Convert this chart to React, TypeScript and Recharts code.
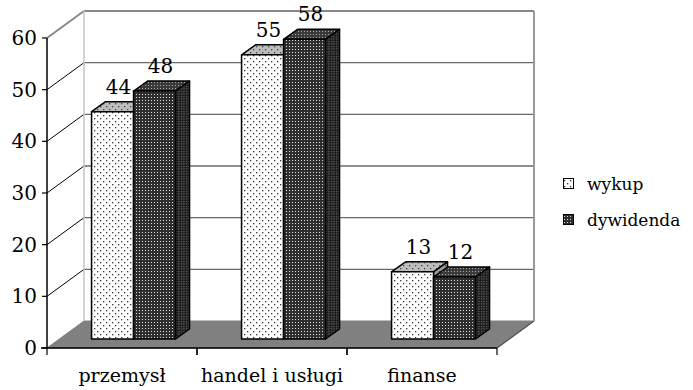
import { BarChart, Bar, XAxis, YAxis, CartesianGrid, Legend, LabelList } from "recharts";

const categories = ["przemysł", "handel i usługi", "finanse"];
const wykup = [44, 55, 13];
const dywidenda = [48, 58, 12];
const valueTicks = [0, 10, 20, 30, 40, 50, 60];
const seriesOrder = ["wykup", "dywidenda"];

const data = categories.map((category, i) => ({ category, wykup: wykup[i], dywidenda: dywidenda[i] }));

const FONT = "'DejaVu Serif'";
const textStyle = { fontFamily: FONT };

// oblique 3D look: the bars sit in the plot plane, axes are pushed forward, the wall back
const FRONT = { x: -12, y: 9 };
const BACK = { x: 25, y: -18 };
const DEPTH = { x: 14, y: -10 };

function boxShape(front: string, top: string, side: string) {
  return (props: any) => {
    const { x, y, width, height } = props;
    if (!height) return <g />;
    const dx = DEPTH.x;
    const dy = DEPTH.y;
    return (
      <g stroke="#000" strokeWidth={1.5} strokeLinejoin="round">
        <polygon
          points={`${x},${y} ${x + dx},${y + dy} ${x + width + dx},${y + dy} ${x + width},${y}`}
          fill={`url(#${top})`}
        />
        <polygon
          points={`${x + width},${y} ${x + width + dx},${y + dy} ${x + width + dx},${y + height + dy} ${x + width},${y + height}`}
          fill={`url(#${side})`}
        />
        <rect x={x} y={y} width={width} height={height} fill={`url(#${front})`} />
      </g>
    );
  };
}

// horizontal grid: back wall line + diagonal on the side wall; the zero line also draws the floor
function wallLine(props: any) {
  const { x1, x2, y1, index } = props;
  const by = y1 + BACK.y;
  const fy = y1 + FRONT.y;
  const isTop = index === valueTicks.length - 1;
  if (index === 0) {
    return (
      <g key={`h-${index}`}>
        <polygon
          points={`${x1 + FRONT.x},${fy} ${x2 + FRONT.x},${fy} ${x2 + BACK.x},${by} ${x1 + BACK.x},${by}`}
          fill="#808080"
          stroke="#808080"
        />
        <line x1={x2 + FRONT.x} y1={fy} x2={x2 + BACK.x} y2={by} stroke="#555" strokeWidth={1.2} />
        <line x1={x1 + FRONT.x - 6} y1={fy} x2={x2 + FRONT.x} y2={fy} stroke="#000" strokeWidth={1.5} />
      </g>
    );
  }
  return (
    <g key={`h-${index}`}>
      <line
        x1={x1 + BACK.x}
        y1={by}
        x2={x2 + BACK.x}
        y2={by}
        stroke={isTop ? "#888" : "#6a6a6a"}
        strokeWidth={isTop ? 2 : 1.3}
      />
      <line
        x1={x1 + FRONT.x}
        y1={fy}
        x2={x1 + BACK.x}
        y2={by}
        stroke={isTop ? "#888" : "#000"}
        strokeWidth={isTop ? 2 : 1}
      />
    </g>
  );
}

// vertical grid at the plot edges: wall corners and the front value axis
function wallEdge(props: any) {
  const { x1, y1, y2, index } = props;
  if (index === 0) {
    return (
      <g key={`v-${index}`}>
        <line x1={x1 + BACK.x} y1={y1 + BACK.y} x2={x1 + BACK.x} y2={y2 + BACK.y} stroke="#c4c4c4" strokeWidth={1.5} />
        <line x1={x1 + FRONT.x} y1={y1 + FRONT.y} x2={x1 + FRONT.x} y2={y2 + FRONT.y} stroke="#000" strokeWidth={1.5} />
      </g>
    );
  }
  return (
    <line
      key={`v-${index}`}
      x1={x1 + BACK.x}
      y1={y1 + BACK.y}
      x2={x1 + BACK.x}
      y2={y2 + BACK.y}
      stroke="#999"
      strokeWidth={2}
    />
  );
}

function ValueTick(props: any) {
  const { x, y, payload } = props;
  const fx = x + FRONT.x;
  const fy = y + FRONT.y;
  return (
    <g>
      <line x1={fx - 5} y1={fy} x2={fx} y2={fy} stroke="#000" strokeWidth={1.2} />
      <text x={fx - 10} y={fy + 7} textAnchor="end" style={textStyle} fontSize={20} fill="#000">
        {payload.value}
      </text>
    </g>
  );
}

function CategoryTick(props: any) {
  const { x, y, payload } = props;
  const half = payload.offset ?? 0;
  const fx = x + FRONT.x;
  const fy = y + FRONT.y;
  return (
    <g>
      <line x1={fx - half} y1={fy} x2={fx - half} y2={fy + 7} stroke="#000" strokeWidth={1.2} />
      <line x1={fx + half} y1={fy} x2={fx + half} y2={fy + 7} stroke="#000" strokeWidth={1.2} />
      <text x={fx} y={fy + 34} textAnchor="middle" style={textStyle} fontSize={19} fill="#000">
        {payload.value}
      </text>
    </g>
  );
}

function ValueLabel(props: any) {
  const { x, y, width, value } = props;
  return (
    <text x={x + width / 2 + 6} y={y - 18} textAnchor="middle" style={textStyle} fontSize={20} fill="#000">
      {value}
    </text>
  );
}

function LegendBox(props: any) {
  const items = [...(props.payload ?? [])].sort(
    (a: any, b: any) => seriesOrder.indexOf(a.dataKey) - seriesOrder.indexOf(b.dataKey)
  );
  return (
    <svg width={130} height={64} style={{ display: "block" }}>
      {items.map((item: any, i: number) => (
        <g key={item.value} transform={`translate(0, ${i * 36})`}>
          <rect x={3.5} y={8.5} width={10} height={10} fill={item.color} stroke="#000" />
          <text x={27} y={20} style={textStyle} fontSize={17} fill="#000">
            {item.value}
          </text>
        </g>
      ))}
    </svg>
  );
}

export default function App() {
  return (
    <div style={{ position: "absolute", left: 0, top: 0, width: 693, height: 390, background: "#fff" }}>
      <BarChart
        width={693}
        height={390}
        data={data}
        margin={{ top: 29, right: 184, bottom: 0, left: 0 }}
        barCategoryGap="21.7%"
        barGap={0}
      >
        <defs>
          <pattern id="wykupFront" width={6} height={6} patternUnits="userSpaceOnUse">
            <rect width={6} height={6} fill="#fff" />
            <rect x={1} y={1} width={1.3} height={1.3} fill="#333" />
            <rect x={4} y={4} width={1.3} height={1.3} fill="#333" />
          </pattern>
          <pattern id="wykupTop" width={6} height={6} patternUnits="userSpaceOnUse">
            <rect width={6} height={6} fill="#bdbdbd" />
            <rect x={1} y={1} width={1.3} height={1.3} fill="#444" />
            <rect x={4} y={4} width={1.3} height={1.3} fill="#444" />
          </pattern>
          <pattern id="wykupSide" width={6} height={6} patternUnits="userSpaceOnUse">
            <rect width={6} height={6} fill="#9a9a9a" />
            <rect x={1} y={1} width={1.3} height={1.3} fill="#333" />
          </pattern>
          <pattern id="dywFront" width={3} height={3} patternUnits="userSpaceOnUse">
            <rect width={3} height={3} fill="#2e2e2e" />
            <rect x={1} y={1} width={1} height={1} fill="#e0e0e0" />
          </pattern>
          <pattern id="dywTop" width={3} height={3} patternUnits="userSpaceOnUse">
            <rect width={3} height={3} fill="#3a3a3a" />
            <rect x={1} y={1} width={1} height={1} fill="#aaa" />
          </pattern>
          <pattern id="dywSide" width={2.5} height={2.5} patternUnits="userSpaceOnUse">
            <rect width={2.5} height={2.5} fill="#1a1a1a" />
            <rect x={1} y={1} width={1} height={1} fill="#999" />
          </pattern>
        </defs>
        <CartesianGrid
          horizontal={wallLine}
          vertical={wallEdge}
          verticalCoordinatesGenerator={({ offset }: any) => [offset.left, offset.left + offset.width]}
        />
        <XAxis
          dataKey="category"
          height={51}
          axisLine={false}
          tickLine={false}
          tickSize={0}
          tickMargin={0}
          interval={0}
          tick={CategoryTick}
        />
        <YAxis
          domain={[0, 60]}
          ticks={valueTicks}
          width={59}
          axisLine={false}
          tickLine={false}
          tickSize={0}
          tickMargin={0}
          interval={0}
          tick={ValueTick}
        />
        <Legend
          layout="vertical"
          align="center"
          verticalAlign="middle"
          content={LegendBox}
          wrapperStyle={{ left: 560, top: 170, width: 130 }}
        />
        <Bar
          dataKey="wykup"
          name="wykup"
          fill="url(#wykupFront)"
          shape={boxShape("wykupFront", "wykupTop", "wykupSide")}
          isAnimationActive={false}
        >
          <LabelList dataKey="wykup" content={ValueLabel} />
        </Bar>
        <Bar
          dataKey="dywidenda"
          name="dywidenda"
          fill="url(#dywFront)"
          shape={boxShape("dywFront", "dywTop", "dywSide")}
          isAnimationActive={false}
        >
          <LabelList dataKey="dywidenda" content={ValueLabel} />
        </Bar>
      </BarChart>
    </div>
  );
}
